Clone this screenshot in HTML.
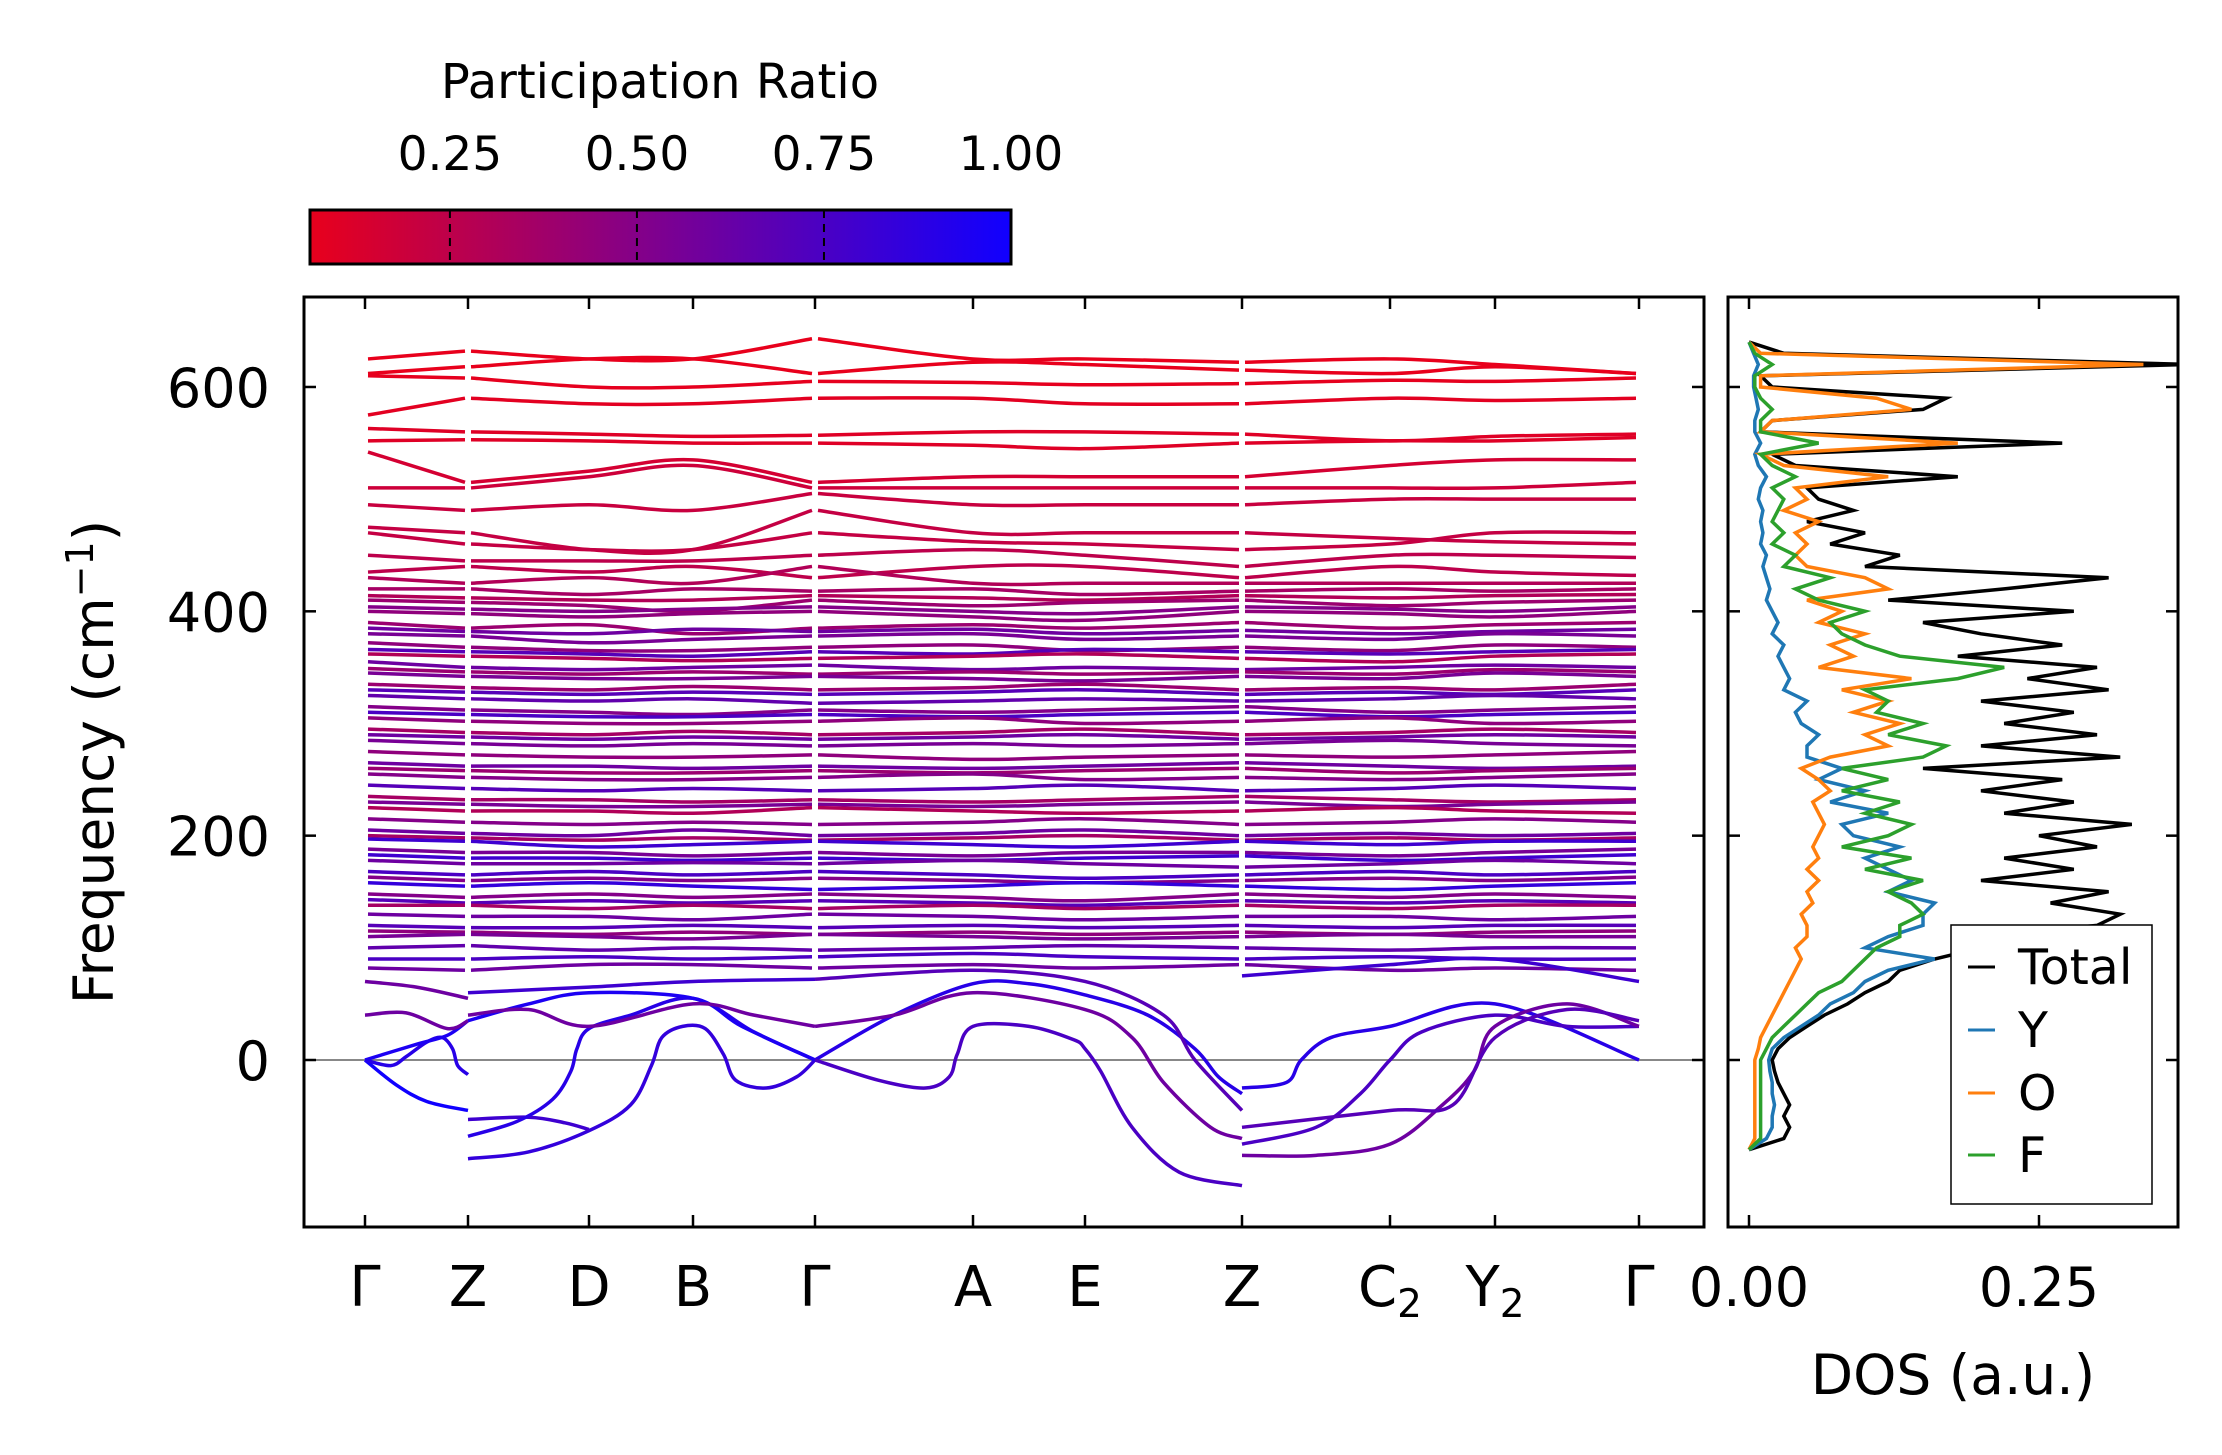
<!DOCTYPE html>
<html><head><meta charset="utf-8"><style>
body{margin:0;background:#fff}
svg{display:block;font-family:"DejaVu Sans","Liberation Sans",sans-serif}
</style></head><body>
<svg id="c" width="2222" height="1455" viewBox="0 0 2222 1455" xmlns="http://www.w3.org/2000/svg">
<defs>
<linearGradient id="cg" x1="0" x2="1" y1="0" y2="0"><stop offset="0" stop-color="#e8001c"/><stop offset="0.5" stop-color="#7d0090"/><stop offset="1" stop-color="#1000ff"/></linearGradient>
<clipPath id="mclip"><rect x="304" y="297" width="1400" height="930"/></clipPath>
<clipPath id="dclip"><rect x="1728" y="297" width="450" height="930"/></clipPath>
</defs>
<g id="bands" clip-path="url(#mclip)"></g>
<g id="dos" clip-path="url(#dclip)"></g>
<g id="axes"></g>
</svg>
<script>
const kLabels=["Γ","Z","D","B","Γ","A","E","Z","C2","Y2","Γ"];
const kPix=[365,468,589,693,815,973,1085,1242,1390,1495,1639];
const yTicks=[0,200,400,600];
const cbTicks=[0.25,0.5,0.75,1.0];
const dosTicks=[0,0.25];
// flat bands: frequency at nodes Γ Z D B Γ A E Z C2 Y2 Γ, then participation ratio
const flatBands=[
[625,632,625,625,643,625,625,622,625,620,612,0.05],
[612,618,625,625,612,622,620,615,612,618,612,0.05],
[610,608,600,600,605,604,602,603,606,605,608,0.07],
[575,590,585,585,590,590,585,585,590,588,590,0.08],
[563,560,558,556,557,560,560,558,552,556,558,0.1],
[552,553,552,550,550,548,545,550,552,552,555,0.1],
[542,515,525,535,515,520,520,520,530,535,535,0.15],
[510,510,520,530,510,510,510,510,510,510,515,0.18],
[495,490,495,490,505,495,495,495,500,500,500,0.2],
[475,470,455,455,490,470,470,470,465,462,460,0.22],
[470,460,455,455,470,462,460,455,460,470,470,0.22],
[450,445,445,445,450,455,450,440,450,450,448,0.25],
[435,440,435,440,430,440,440,430,440,435,432,0.25],
[430,425,430,425,440,425,425,425,425,425,425,0.3],
[420,420,415,420,418,420,415,418,420,418,420,0.35],
[414,412,410,410,414,412,410,414,412,414,415,0.3],
[410,408,405,400,410,405,408,410,405,408,410,0.4],
[404,402,400,402,404,400,398,404,402,400,404,0.5],
[400,398,395,398,400,395,392,400,398,395,400,0.45],
[390,385,388,380,385,388,385,390,385,388,390,0.4],
[385,382,380,384,382,384,380,383,380,382,384,0.6],
[380,378,372,375,378,380,375,378,375,380,378,0.55],
[372,368,365,365,368,370,365,368,365,370,368,0.45],
[366,364,362,360,364,362,366,364,362,364,366,0.7],
[362,360,358,356,358,360,362,358,355,360,362,0.3],
[355,350,348,350,352,348,350,348,350,352,350,0.6],
[349,346,344,346,344,346,344,346,344,348,346,0.4],
[345,342,340,340,342,340,338,342,340,345,342,0.55],
[335,332,330,333,330,332,335,330,332,330,335,0.4],
[330,328,326,328,326,328,330,326,328,326,330,0.7],
[325,322,320,322,318,320,322,320,322,325,322,0.65],
[315,312,310,308,312,310,312,315,310,312,315,0.5],
[310,308,306,306,308,306,308,310,306,308,310,0.75],
[305,302,300,300,302,305,300,302,305,300,302,0.45],
[295,292,290,293,290,292,295,290,292,295,292,0.35],
[290,288,286,288,286,288,290,286,288,290,288,0.6],
[285,282,280,282,280,282,280,282,285,282,280,0.55],
[275,272,270,270,272,268,270,272,270,272,275,0.45],
[265,262,262,260,262,260,262,265,262,260,262,0.6],
[260,258,256,256,258,256,258,260,256,258,260,0.4],
[255,252,250,250,252,255,250,252,250,252,255,0.5],
[245,242,240,242,240,242,245,240,242,245,242,0.7],
[235,232,232,230,232,230,232,235,232,230,232,0.35],
[230,228,226,226,228,226,228,230,226,228,230,0.55],
[225,222,222,220,225,222,220,222,225,222,220,0.3],
[215,212,210,212,210,212,215,210,212,215,212,0.5],
[205,202,200,205,200,202,205,200,202,200,202,0.6],
[200,198,196,198,196,198,200,196,198,196,198,0.35],
[197,195,190,192,195,192,190,195,192,195,195,0.8],
[188,185,185,182,185,182,185,185,182,185,188,0.55],
[183,180,180,178,180,178,180,182,178,180,183,0.8],
[178,175,175,176,175,178,175,172,175,178,175,0.6],
[168,165,168,165,168,165,162,165,168,165,168,0.75],
[163,160,162,160,162,160,158,160,162,160,163,0.5],
[158,155,158,155,152,155,158,155,152,155,158,0.85],
[148,145,148,145,148,145,142,148,145,148,145,0.5],
[143,140,142,140,142,140,138,142,140,142,140,0.7],
[138,138,135,138,135,138,135,138,135,138,138,0.35],
[130,128,128,125,130,128,125,128,128,125,128,0.6],
[120,118,118,120,118,120,118,120,118,120,120,0.7],
[115,114,112,114,112,114,112,114,112,114,115,0.45],
[110,112,110,108,112,110,108,110,112,110,110,0.55],
[100,102,98,100,98,100,102,100,98,100,100,0.65],
[90,90,92,90,92,95,92,90,92,90,90,0.75],
[82,80,85,85,82,85,82,85,80,82,80,0.6]
];
// low (acoustic / soft) branches: [k, freq] points and ratio
const lowBands=[
{p:[[0,0],[0.3,-22],[0.6,-37],[1,-45]],r:1},
{p:[[0,0],[0.25,-5],[0.4,3],[0.6,16],[0.75,20],[0.85,10],[0.9,-5],[1,-13]],r:0.9},
{p:[[0,0],[0.5,14],[0.8,22],[1,35]],r:0.95},
{p:[[0,40],[0.4,42],[0.8,28],[1,35]],r:0.6},
{p:[[0,70],[0.5,65],[1,55]],r:0.6},
{p:[[1,-88],[1.5,-82],[2,-63],[2.4,-40],[2.6,-5],[2.7,20],[2.9,30],[3.1,28],[3.25,5],[3.35,-18],[3.6,-25],[3.85,-15],[4,0]],r:0.85},
{p:[[1,-53],[1.5,-51],[1.8,-56],[2,-62]],r:0.8},
{p:[[1,-68],[1.4,-55],[1.7,-35],[1.85,-10],[1.9,10],[2,28],[2.4,40],[3,55],[3.5,25],[4,0]],r:0.9},
{p:[[1,35],[1.5,50],[2,60],[3,55],[3.4,30],[4,0]],r:0.95},
{p:[[1,40],[1.5,45],[2,30],[3,50],[3.5,40],[4,30]],r:0.6},
{p:[[1,60],[2,65],[3,70],[4,72]],r:0.8},
{p:[[4,0],[4.5,40],[5,68],[5.5,68],[6,58],[6.4,40],[6.7,10],[6.85,-15],[7,-30]],r:0.9},
{p:[[4,0],[4.4,-18],[4.7,-25],[4.85,-15],[4.9,5],[5,30],[5.5,30],[5.9,18],[6,10],[6.1,-10],[6.3,-60],[6.6,-100],[7,-112]],r:0.75},
{p:[[4,30],[4.5,40],[5,60],[6,45],[6.3,20],[6.5,-20],[6.8,-60],[7,-70]],r:0.6},
{p:[[4,72],[5,80],[6,70],[6.5,40],[6.7,0],[7,-45]],r:0.7},
{p:[[7,-25],[7.3,-20],[7.4,0],[7.6,20],[8,30],[9,50],[10,0]],r:0.9},
{p:[[7,-75],[7.5,-60],[7.8,-30],[8,0],[8.3,25],[9,40],[9.5,30],[10,30]],r:0.75},
{p:[[7,-85],[7.5,-85],[8,-75],[8.5,-40],[8.8,-10],[9,30],[9.5,50],[10,30]],r:0.6},
{p:[[7,-60],[8,-45],[8.6,-40],[9,20],[9.5,45],[10,35]],r:0.7},
{p:[[7,75],[8,85],[9,90],[10,70]],r:0.8}
];
// DOS: frequency bins -80..640 step 10
const dosFreq=[-80,-70,-60,-50,-40,-30,-20,-10,0,10,20,30,40,50,60,70,80,90,100,110,120,130,140,150,160,170,180,190,200,210,220,230,240,250,260,270,280,290,300,310,320,330,340,350,360,370,380,390,400,410,420,430,440,450,460,470,480,490,500,510,520,530,540,550,560,570,580,590,600,610,620,630,640];
const dosTotal=[0,0.03,0.035,0.03,0.035,0.03,0.025,0.022,0.02,0.025,0.035,0.05,0.065,0.085,0.1,0.12,0.13,0.16,0.2,0.2,0.3,0.32,0.26,0.31,0.2,0.28,0.22,0.3,0.25,0.33,0.22,0.28,0.2,0.27,0.15,0.32,0.2,0.3,0.22,0.28,0.2,0.31,0.24,0.3,0.18,0.27,0.2,0.15,0.28,0.12,0.22,0.31,0.1,0.13,0.07,0.1,0.05,0.09,0.06,0.05,0.18,0.04,0.02,0.27,0.01,0.02,0.15,0.17,0.02,0.01,0.38,0.03,0];
const dosY=[0,0.015,0.02,0.02,0.022,0.02,0.02,0.018,0.017,0.02,0.03,0.045,0.06,0.07,0.09,0.1,0.12,0.16,0.1,0.12,0.15,0.15,0.16,0.12,0.14,0.12,0.1,0.13,0.09,0.08,0.12,0.07,0.1,0.06,0.08,0.05,0.05,0.06,0.045,0.04,0.05,0.03,0.035,0.03,0.025,0.03,0.02,0.025,0.02,0.015,0.018,0.015,0.012,0.015,0.01,0.012,0.01,0.012,0.008,0.01,0.015,0.008,0.005,0.01,0.005,0.005,0.008,0.006,0.004,0.004,0.008,0.004,0];
const dosO=[0,0.005,0.005,0.005,0.005,0.005,0.005,0.005,0.005,0.008,0.01,0.015,0.02,0.025,0.03,0.035,0.04,0.045,0.04,0.05,0.05,0.045,0.055,0.05,0.06,0.05,0.06,0.055,0.06,0.065,0.06,0.055,0.07,0.06,0.045,0.07,0.12,0.1,0.13,0.09,0.12,0.08,0.14,0.06,0.09,0.07,0.1,0.06,0.08,0.05,0.12,0.1,0.05,0.04,0.05,0.04,0.06,0.03,0.05,0.04,0.12,0.03,0.01,0.18,0.01,0.02,0.14,0.11,0.01,0.01,0.34,0.01,0];
const dosF=[0,0.01,0.01,0.01,0.01,0.01,0.01,0.01,0.01,0.015,0.02,0.03,0.04,0.05,0.06,0.08,0.09,0.1,0.11,0.13,0.13,0.15,0.14,0.12,0.15,0.1,0.14,0.08,0.12,0.14,0.1,0.13,0.08,0.12,0.08,0.15,0.17,0.12,0.15,0.11,0.12,0.1,0.18,0.22,0.13,0.1,0.08,0.07,0.1,0.06,0.04,0.07,0.03,0.04,0.02,0.03,0.02,0.025,0.03,0.02,0.04,0.02,0.01,0.06,0.01,0.01,0.02,0.01,0.005,0.005,0.02,0.005,0];

const NS="http://www.w3.org/2000/svg";
const gB=document.getElementById('bands'),gD=document.getElementById('dos'),gA=document.getElementById('axes');
function el(t,a,p){const e=document.createElementNS(NS,t);for(const k in a)e.setAttribute(k,a[k]);(p||gA).appendChild(e);return e;}
const fy=f=>1060-f*1.1217;
function kx(k){const i=Math.min(Math.floor(k),9);return kPix[i]+(kPix[i+1]-kPix[i])*(k-i);}
function col(r){const t=Math.max(0,Math.min(1,(r-0.06)/0.94));const c0=[232,0,28],c1=[125,0,144],c2=[16,0,255];let a,b,u;if(t<0.5){a=c0;b=c1;u=t*2}else{a=c1;b=c2;u=(t-0.5)*2}return `rgb(${a.map((v,i)=>Math.round(v+(b[i]-v)*u)).join(',')})`;}
function spline(pts){let d=`M${pts[0][0]},${pts[0][1]}`;for(let i=0;i<pts.length-1;i++){const p0=pts[Math.max(0,i-1)],p1=pts[i],p2=pts[i+1],p3=pts[Math.min(pts.length-1,i+2)];const c1=[p1[0]+(p2[0]-p0[0])/6,p1[1]+(p2[1]-p0[1])/6],c2=[p2[0]-(p3[0]-p1[0])/6,p2[1]-(p3[1]-p1[1])/6];d+=`C${c1[0]},${c1[1]} ${c2[0]},${c2[1]} ${p2[0]},${p2[1]}`;}return d;}
const segs=[[0,1],[1,4],[4,7],[7,10]];
const zl=el('line',{x1:304,x2:1704,y1:fy(0),y2:fy(0),stroke:'#888','stroke-width':2},gB);


flatBands.forEach((b,bi)=>{segs.forEach(s=>{const pts=[];for(let k=s[0];k<=s[1];k++)pts.push([kPix[k],fy(b[k])]);pts[0][0]+=3;pts[pts.length-1][0]-=3;
const p=el('path',{d:spline(pts),fill:'none',stroke:col(b[11]),'stroke-width':3.5},gB);

});});
lowBands.forEach((b,bi)=>{const pts=b.p.map(q=>[kx(q[0]),fy(q[1])]);
const p=el('path',{d:spline(pts),fill:'none',stroke:col(b.r),'stroke-width':3.5},gB);

});
const dx=v=>1749+v*1160;
[[dosTotal,'#000','dos-total'],[dosY,'#1f77b4','dos-y'],[dosO,'#ff7f0e','dos-o'],[dosF,'#2ca02c','dos-f']].forEach(([arr,c,n])=>{
const pts=arr.map((v,i)=>`${dx(v).toFixed(1)},${fy(dosFreq[i]).toFixed(1)}`).join(' ');
const p=el('polyline',{points:pts,fill:'none',stroke:c,'stroke-width':3.5},gD);

});
const f1=el('rect',{x:304,y:297,width:1400,height:930,fill:'none',stroke:'#000','stroke-width':3});


const f2=el('rect',{x:1728,y:297,width:450,height:930,fill:'none',stroke:'#000','stroke-width':3});


yTicks.forEach(v=>{const y=fy(v);
el('line',{x1:304,x2:316,y1:y,y2:y,stroke:'#000','stroke-width':2.5});
el('line',{x1:1692,x2:1704,y1:y,y2:y,stroke:'#000','stroke-width':2.5});
el('line',{x1:1728,x2:1740,y1:y,y2:y,stroke:'#000','stroke-width':2.5});
el('line',{x1:2166,x2:2178,y1:y,y2:y,stroke:'#000','stroke-width':2.5});
const t=el('text',{x:270,y:y+20,'text-anchor':'end','font-size':54});t.textContent=v;

});
kPix.forEach((x,i)=>{
el('line',{x1:x,x2:x,y1:1227,y2:1215,stroke:'#000','stroke-width':2.5});
el('line',{x1:x,x2:x,y1:297,y2:309,stroke:'#000','stroke-width':2.5});
const lab=kLabels[i];const t=el('text',{x:x,y:1306,'text-anchor':'middle','font-size':56});
if(lab.length>1){t.textContent=lab[0];const ts=el('tspan',{'font-size':39,dy:11},t);ts.textContent=lab[1];}else t.textContent=lab;

});
dosTicks.forEach(v=>{const x=dx(v);
el('line',{x1:x,x2:x,y1:1227,y2:1215,stroke:'#000','stroke-width':2.5});
el('line',{x1:x,x2:x,y1:297,y2:309,stroke:'#000','stroke-width':2.5});
const t=el('text',{x:x,y:1306,'text-anchor':'middle','font-size':54});t.textContent=v.toFixed(2);

});
const yt=el('text',{x:0,y:0,'text-anchor':'middle','font-size':55,transform:'translate(113,762) rotate(-90)'});
yt.innerHTML='Frequency (cm<tspan dy="-20" font-size="38">−1</tspan><tspan dy="20">)</tspan>';


const dt=el('text',{x:1953,y:1394,'text-anchor':'middle','font-size':55});dt.textContent='DOS (a.u.)';


const cb=el('rect',{x:310,y:210,width:701,height:54,fill:'url(#cg)',stroke:'#000','stroke-width':3});


cbTicks.forEach(v=>{const x=310+701*(v-0.063)/0.937;
if(v<1)el('line',{x1:x,x2:x,y1:210,y2:264,stroke:'#000','stroke-width':2,'stroke-dasharray':'8,6'});
const t=el('text',{x:x,y:170,'text-anchor':'middle','font-size':47});t.textContent=v.toFixed(2);

});
const ct=el('text',{x:660,y:98,'text-anchor':'middle','font-size':48});ct.textContent='Participation Ratio';


const lg=el('rect',{x:1951,y:925,width:201,height:279,fill:'#fff',stroke:'#000','stroke-width':1.5});


[['Total','#000',967],['Y','#1f77b4',1030],['O','#ff7f0e',1093],['F','#2ca02c',1155]].forEach(([n,c,y])=>{
el('line',{x1:1968,x2:1995,y1:y,y2:y,stroke:c,'stroke-width':3});
const t=el('text',{x:2018,y:y+17,'font-size':49});t.textContent=n;

});
</script>
</body></html>
